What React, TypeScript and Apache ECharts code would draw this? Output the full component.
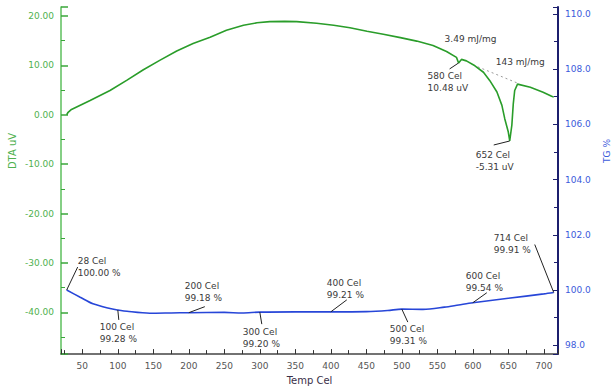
import React, { useEffect, useRef } from "react";
import * as echarts from "echarts";

// DTA curve (uV) vs temperature (Cel)
const dtaTemp = [28, 30, 34, 61, 89, 113, 136, 159, 183, 206, 230, 253, 277, 296, 314, 335, 352, 380, 404, 427, 451, 474, 498, 521, 544, 563, 577, 580, 584, 591, 603, 615, 624, 634, 641, 645, 650, 652, 655, 657, 659, 663, 681, 699, 711, 714];
const dtaValue = [0.0, 0.5, 1.0, 2.9, 4.9, 7.0, 9.1, 11.0, 12.9, 14.4, 15.7, 17.1, 18.1, 18.6, 18.85, 18.9, 18.85, 18.5, 18.1, 17.6, 16.9, 16.3, 15.6, 14.9, 14.0, 12.8, 11.6, 10.48, 11.2, 10.9, 9.9, 8.6, 6.9, 4.6, 1.9, -0.8, -3.5, -5.31, -2.1, 2.2, 4.9, 6.2, 5.55, 4.55, 3.75, 3.6];

// TG curve (%) vs temperature (Cel)
const tgTemp = [28, 47, 65, 89, 100, 113, 145, 175, 200, 250, 275, 300, 350, 400, 450, 480, 500, 530, 560, 580, 600, 650, 700, 714];
const tgValue = [100.0, 99.74, 99.5, 99.33, 99.28, 99.23, 99.16, 99.17, 99.18, 99.19, 99.17, 99.2, 99.21, 99.21, 99.22, 99.26, 99.31, 99.3, 99.38, 99.46, 99.54, 99.7, 99.86, 99.91];

// peak baseline (dotted)
const baselineTemp = [607, 663];
const baselineValue = [9.7, 6.4];

// annotations
const tgNoteTemp = [28, 100, 200, 300, 400, 500, 600, 714];
const tgNoteValue = [100.0, 99.28, 99.18, 99.2, 99.21, 99.31, 99.54, 99.91];
const dtaNoteTemp = [580, 652];
const dtaNoteValue = [10.48, -5.31];
const peakEnergy = ["3.49 mJ/mg", "143 mJ/mg"];

// layout of annotations (pixel offsets from the annotated point)
const tgNoteLayout = [
  { lead: [11, -23], label: [11, -35] },
  { lead: [1, 10], label: [-18, 11] },
  { lead: [16, -6], label: [-4, -33] },
  { lead: [2, 12], label: [-17, 14] },
  { lead: [16, -12], label: [-4, -35] },
  { lead: [6, 13], label: [-12, 14] },
  { lead: [14, -10], label: [-7, -33] },
  { lead: [-19, -48], label: [-60, -61] },
];
const dtaNoteLayout = [
  { lead: [-9, 6], label: [-31, 7], energy: [-14, -30] },
  { lead: [-16, 4], label: [-34, 8], energy: [-14, -85] },
];

const FONT = "DejaVu Sans";

export default function App() {
  const ref = useRef<HTMLDivElement>(null);

  useEffect(() => {
    if (!ref.current) return;
    const chart = echarts.init(ref.current, undefined, { renderer: "svg" });
    chart.setOption({
      animation: false,
      backgroundColor: "#ffffff",
      grid: { left: 61, right: 55, top: 7, bottom: 33 },
      xAxis: {
        type: "value",
        min: 20,
        max: 720,
        splitNumber: 14,
        name: "Temp Cel",
        nameLocation: "middle",
        nameGap: 17,
        nameTextStyle: { color: "#3a2f48", fontSize: 10, fontFamily: FONT },
        axisLine: { onZero: false, lineStyle: { color: "#444", width: 1.5 } },
        axisTick: { inside: true, length: 5, lineStyle: { color: "#333" } },
        minorTick: { show: true, splitNumber: 2, length: 4, lineStyle: { color: "#333" } },
        axisLabel: {
          showMinLabel: false,
          showMaxLabel: false,
          color: "#555",
          fontSize: 9,
          fontFamily: FONT,
          margin: 7,
        },
        splitLine: { show: false },
      },
      yAxis: [
        {
          type: "value",
          position: "left",
          min: -48.43,
          max: 21.8,
          splitNumber: 7,
          axisLine: { show: true, onZero: false, lineStyle: { color: "#5cbf5c", width: 1.5 } },
          axisTick: { show: true, inside: true, length: 7, lineStyle: { color: "#3aa63a", width: 1.5 } },
          minorTick: { show: true, splitNumber: 2, length: 4, lineStyle: { color: "#3aa63a" } },
          axisLabel: {
            showMinLabel: false,
            showMaxLabel: false,
            color: "#4fb14f",
            fontSize: 9,
            fontFamily: FONT,
            margin: 7,
            formatter: (v: number) => v.toFixed(2),
          },
          splitLine: { show: false },
        },
        {
          type: "value",
          position: "right",
          min: 97.68,
          max: 110.25,
          splitNumber: 6,
          axisLine: { show: true, onZero: false, lineStyle: { color: "#1c1f6e", width: 2 } },
          axisTick: { show: true, inside: true, length: 5, lineStyle: { color: "#1c1f6e" } },
          minorTick: { show: true, splitNumber: 2, length: 4, lineStyle: { color: "#1c1f6e" } },
          axisLabel: {
            showMinLabel: false,
            showMaxLabel: false,
            color: "#3b5bdb",
            fontSize: 9,
            fontFamily: FONT,
            margin: 7,
            formatter: (v: number) => v.toFixed(1),
          },
          splitLine: { show: false },
        },
      ],
      series: [
        {
          type: "line",
          yAxisIndex: 0,
          data: dtaTemp.map((t, i) => [t, dtaValue[i]]),
          showSymbol: false,
          lineStyle: { color: "#2a9d2a", width: 1.6 },
          z: 3,
        },
        {
          type: "line",
          yAxisIndex: 1,
          data: tgTemp.map((t, i) => [t, tgValue[i]]),
          showSymbol: false,
          smooth: 0.3,
          lineStyle: { color: "#2746d8", width: 1.6 },
          z: 3,
        },
        {
          type: "line",
          yAxisIndex: 0,
          data: baselineTemp.map((t, i) => [t, baselineValue[i]]),
          showSymbol: false,
          lineStyle: { color: "#9a9a9a", width: 1, type: [2, 3] },
          z: 2,
        },
      ],
    });

    const graphics: any[] = [];
    const textStyle = (text: string, x: number, y: number) => ({
      type: "text",
      x,
      y,
      style: {
        text,
        fill: "#3a3a3a",
        font: `9px "${FONT}"`,
        lineHeight: 12,
        textVerticalAlign: "top",
      },
      z: 10,
    });
    const leader = (x1: number, y1: number, x2: number, y2: number) => ({
      type: "line",
      shape: { x1, y1, x2, y2 },
      style: { stroke: "#222", lineWidth: 1 },
      z: 10,
    });

    tgNoteTemp.forEach((t, i) => {
      const p = chart.convertToPixel({ seriesIndex: 1 }, [t, tgNoteValue[i]]) as number[];
      const l = tgNoteLayout[i];
      graphics.push(leader(p[0] + l.lead[0], p[1] + l.lead[1], p[0], p[1]));
      graphics.push(
        textStyle(`${t} Cel\n${tgNoteValue[i].toFixed(2)} %`, p[0] + l.label[0], p[1] + l.label[1])
      );
    });
    dtaNoteTemp.forEach((t, i) => {
      const p = chart.convertToPixel({ seriesIndex: 0 }, [t, dtaNoteValue[i]]) as number[];
      const l = dtaNoteLayout[i];
      graphics.push(leader(p[0] + l.lead[0], p[1] + l.lead[1], p[0], p[1]));
      graphics.push(
        textStyle(`${t} Cel\n${dtaNoteValue[i].toFixed(2)} uV`, p[0] + l.label[0], p[1] + l.label[1])
      );
      graphics.push(textStyle(peakEnergy[i], p[0] + l.energy[0], p[1] + l.energy[1]));
    });

    graphics.push({
      type: "text",
      x: 12,
      y: 151,
      rotation: Math.PI / 2,
      style: {
        text: "DTA uV",
        fill: "#4fb14f",
        font: `10px "${FONT}"`,
        textAlign: "center",
        textVerticalAlign: "middle",
      },
    });
    graphics.push({
      type: "text",
      x: 607,
      y: 151,
      rotation: Math.PI / 2,
      style: {
        text: "TG %",
        fill: "#3b5bdb",
        font: `9px "${FONT}"`,
        textAlign: "center",
        textVerticalAlign: "middle",
      },
    });

    chart.setOption({ graphic: graphics });

    return () => chart.dispose();
  }, []);

  return (
    <div
      ref={ref}
      style={{ position: "fixed", left: 0, top: 0, width: 613, height: 390, background: "#fff" }}
    />
  );
}
